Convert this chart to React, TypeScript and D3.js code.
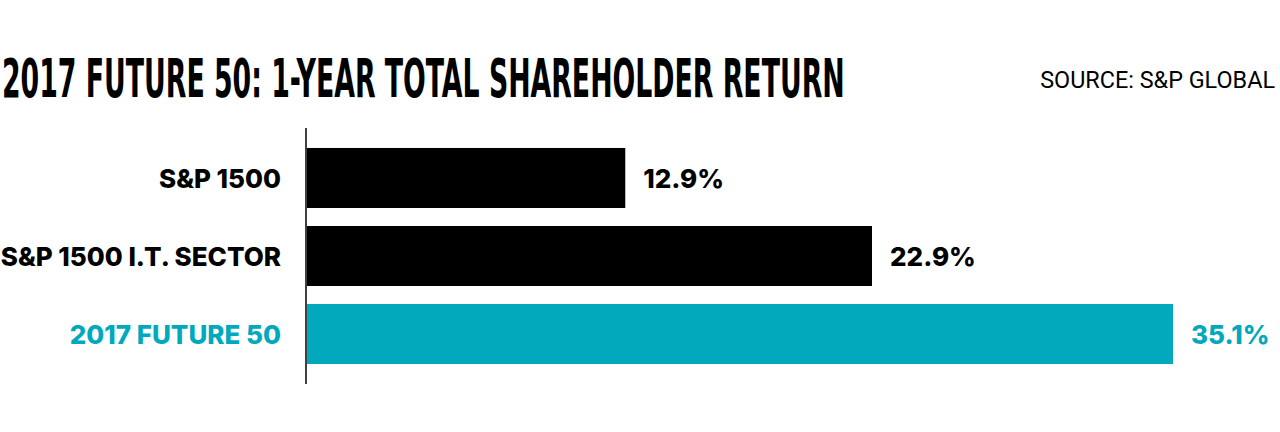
import React, { useLayoutEffect, useRef, useState } from "react";
import * as d3 from "d3";

const categories = ["S&P 1500", "S&P 1500 I.T. SECTOR", "2017 FUTURE 50"];
const values = [12.9, 22.9, 35.1];
const highlight = [false, false, true];
const titleText = "2017 FUTURE 50: 1-YEAR TOTAL SHAREHOLDER RETURN";
const sourceText = "SOURCE: S&P GLOBAL";

const W = 1280;
const H = 432;
const TEAL = "#02a9bd";
const LABEL_FONT = "Inter, Roboto, 'Noto Sans', sans-serif";

function FitText(props: {
  x: number;
  y: number;
  width: number;
  anchor?: "start" | "end";
  children: string;
  [k: string]: any;
}) {
  const { x, y, width, anchor = "start", children, ...rest } = props;
  const ref = useRef<SVGTextElement>(null);
  const [sx, setSx] = useState(1);
  useLayoutEffect(() => {
    if (ref.current) {
      const w = ref.current.getComputedTextLength();
      if (w > 0) setSx(width / w);
    }
  }, [width, children]);
  return (
    <g transform={`translate(${x},${y}) scale(${sx},1)`}>
      <text ref={ref} x={0} y={0} textAnchor={anchor} {...rest}>
        {children}
      </text>
    </g>
  );
}

export default function App() {
  const x0 = 307;
  const x = d3.scaleLinear().domain([0, 35.1]).range([x0, 1173]);
  const y = d3
    .scaleBand<string>()
    .domain(categories)
    .range([128, 384])
    .paddingInner(0.2308)
    .paddingOuter(0.256);

  return (
    <svg
      width={W}
      height={H}
      style={{ position: "absolute", left: 0, top: 0, background: "#fff" }}
    >
      <FitText
        x={2}
        y={97}
        width={843}
        fontFamily="'Liberation Sans Narrow', 'DejaVu Sans Condensed', sans-serif"
        fontWeight={700}
        fontSize={54}
        fill="#000"
      >
        {titleText}
      </FitText>
      <FitText
        x={1275}
        y={88}
        width={235}
        anchor="end"
        fontFamily="Roboto, sans-serif"
        fontWeight={400}
        fontSize={23}
        fill="#000"
      >
        {sourceText}
      </FitText>
      {categories.map((c, i) => {
        const yy = y(c) as number;
        const bw = y.bandwidth();
        const cy = yy + bw / 2;
        const color = highlight[i] ? TEAL : "#000";
        return (
          <g key={c}>
            <rect x={x(0)} y={yy} width={x(values[i]) - x(0)} height={bw} fill={color} />
            <text
              x={281}
              y={cy + 10}
              textAnchor="end"
              fontFamily={LABEL_FONT}
              fontWeight={800}
              fontSize={26}
              fill={color}
            >
              {c}
            </text>
            <text
              x={x(values[i]) + 18}
              y={cy + 10}
              fontFamily={LABEL_FONT}
              fontWeight={800}
              fontSize={26}
              fill={color}
            >
              {values[i].toFixed(1) + "%"}
            </text>
          </g>
        );
      })}
      <line x1={306} x2={306} y1={128} y2={384} stroke="#000" strokeWidth={1.5} />
    </svg>
  );
}
